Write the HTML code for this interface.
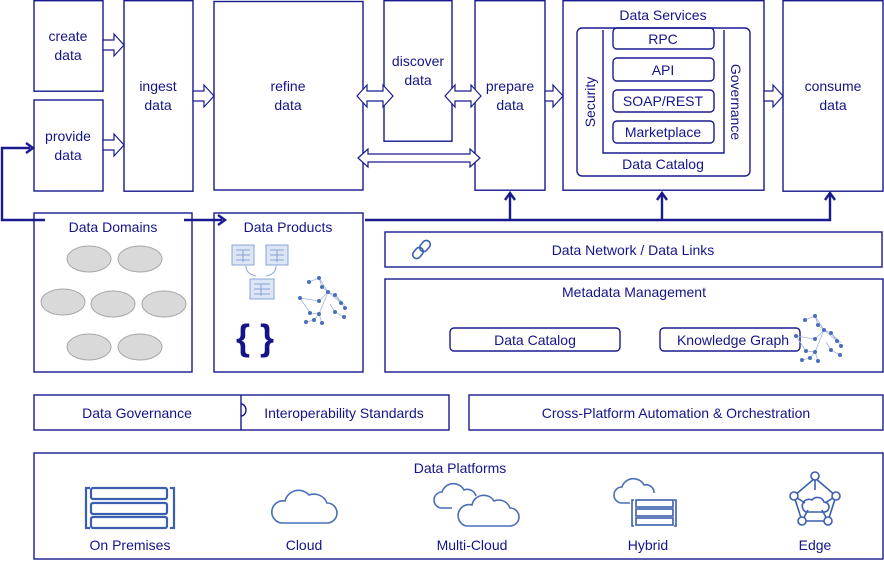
<!DOCTYPE html>
<html><head><meta charset="utf-8"><style>
body{margin:0;width:884px;height:564px;background:#fff;overflow:hidden}
svg{display:block}
text{font-family:"Liberation Sans",sans-serif;fill:#14148a;font-size:14px;text-anchor:middle}
.b{fill:none;stroke:#1a1a8f;stroke-width:1.4}
.a{fill:#fff;stroke:#1a1a8f;stroke-width:1.2}
.l{fill:none;stroke:#1a1a8f;stroke-width:2.4}
.ic{fill:none;stroke:#4a6fb8;stroke-width:1.6}
.dot{fill:#4a6fb8}
.nl{stroke:#9fb3dd;stroke-width:0.8;fill:none}
.e{fill:#d9d9d9;stroke:#a6a6a6;stroke-width:1}
</style></head><body>
<svg width="884" height="564" viewBox="0 0 884 564">
<rect class="b" x="34" y="0.7" width="69" height="90.5"/>
<text x="68" y="41">create</text><text x="68" y="60">data</text>
<rect class="b" x="34" y="100" width="69" height="91"/>
<text x="68" y="141">provide</text><text x="68" y="160">data</text>
<rect class="b" x="124" y="0.7" width="69" height="190.5"/>
<text x="158" y="91">ingest</text><text x="158" y="110">data</text>
<rect class="b" x="214" y="1.5" width="149" height="188.5"/>
<text x="288" y="91">refine</text><text x="288" y="110">data</text>
<rect class="b" x="384" y="0.7" width="68" height="140.5"/>
<text x="418" y="66">discover</text><text x="418" y="85">data</text>
<rect class="b" x="475" y="0.7" width="70" height="189.5"/>
<text x="510" y="91">prepare</text><text x="510" y="110">data</text>
<rect class="b" x="563" y="0.7" width="201" height="189.5"/>
<text x="663" y="20">Data Services</text>
<rect class="b" x="577" y="28" width="173" height="148" rx="5"/>
<path class="b" d="M603,30 V153 H724 V30" />
<rect class="b" x="613" y="28" width="101" height="21" rx="4"/><text x="663" y="44">RPC</text>
<rect class="b" x="613" y="58" width="101" height="23" rx="4"/><text x="663" y="75">API</text>
<rect class="b" x="613" y="90" width="101" height="22" rx="4"/><text x="663" y="106">SOAP/REST</text>
<rect class="b" x="613" y="121" width="101" height="22" rx="4"/><text x="663" y="137">Marketplace</text>
<text x="663" y="169">Data Catalog</text>
<text transform="translate(595,102) rotate(-90)">Security</text>
<text transform="translate(731,102) rotate(90)">Governance</text>
<rect class="b" x="783" y="0.7" width="100" height="190.5"/>
<text x="833" y="91">consume</text><text x="833" y="110">data</text>
<polygon class="a" points="103,40 114,40 114,34 124,45 114,56 114,50 103,50"/>
<polygon class="a" points="103,140 114,140 114,134 124,145 114,156 114,150 103,150"/>
<polygon class="a" points="193,91 204,91 204,85 214,96 204,107 204,101 193,101"/>
<polygon class="a" points="545,91 553,91 553,85 563,96 553,107 553,101 545,101"/>
<polygon class="a" points="764,91 773,91 773,85 783,96 773,107 773,101 764,101"/>
<polygon class="a" points="357,96 367,85 367,91 383,91 383,85 393,96 383,107 383,101 367,101 367,107"/>
<polygon class="a" points="445,96 455,85 455,91 471,91 471,85 481,96 471,107 471,101 455,101 455,107"/>
<polygon class="a" points="358,158 368,149 368,154 470,154 470,149 480,158 470,167 470,162 368,162 368,167"/>
<path class="l" d="M45,220 H2 V148 H30"/>
<path class="l" d="M26,143 L33,148 L26,153"/>
<path class="l" d="M184,220 H222"/>
<path class="l" d="M218,215 L225,220 L218,225"/>
<path class="l" d="M365,220 H830 V195 M510,220 V195 M662,220 V195"/>
<path class="l" d="M505,200 L510,193 L515,200 M657,200 L662,193 L667,200 M825,200 L830,193 L835,200"/>
<rect class="b" x="34" y="213" width="158" height="159"/>
<rect x="45" y="214" width="139" height="14" fill="#fff"/>
<text x="113" y="232">Data Domains</text>
<ellipse class="e" cx="89" cy="259" rx="22" ry="13"/><ellipse class="e" cx="140" cy="259" rx="22" ry="13"/>
<ellipse class="e" cx="63" cy="302" rx="22" ry="13"/><ellipse class="e" cx="113" cy="304" rx="22" ry="13"/><ellipse class="e" cx="164" cy="304" rx="22" ry="13"/>
<ellipse class="e" cx="89" cy="347" rx="22" ry="13"/><ellipse class="e" cx="140" cy="347" rx="22" ry="13"/>
<rect class="b" x="214" y="213" width="149" height="159"/>
<text x="288" y="232">Data Products</text>
<g fill="#dce6f5" stroke="#8aa4d6" stroke-width="1">
<rect x="232" y="245" width="22" height="20"/><rect x="266" y="245" width="22" height="20"/><rect x="250" y="279" width="24" height="20"/>
</g>
<g stroke="#8aa4d6" stroke-width="1" fill="none">
<path d="M236,250 h14 M236,255 h14 M236,260 h14 M243,250 v12 M270,250 h14 M270,255 h14 M270,260 h14 M277,250 v12 M254,284 h16 M254,289 h16 M254,294 h16 M261,284 v12 M246,266 q0,8 10,10 M276,266 q0,8 -10,10"/>
</g>
<text x="255" y="350" style="font-size:36px;font-weight:bold;fill:#14148a">{ }</text>
<g id="net">
<path class="nl" d="M309,282 L319,278 L328,292 L319,301 L300,298 M319,278 L322,287 L328,292 L341,303 L335,295 L328,292 M300,298 L310,313 L319,314 L328,292 M319,314 L314,320 L306,322 M319,314 L322,323 M341,303 L345,308 M335,295 L345,305 M330,304 L335,312 L344,317"/>
<g class="dot"><circle cx="309" cy="282" r="2"/><circle cx="319" cy="278" r="2"/><circle cx="322" cy="287" r="2"/><circle cx="328" cy="292" r="2"/><circle cx="319" cy="301" r="2"/><circle cx="300" cy="298" r="2"/><circle cx="310" cy="313" r="2"/><circle cx="319" cy="314" r="2"/><circle cx="306" cy="322" r="2"/><circle cx="314" cy="320" r="2"/><circle cx="322" cy="323" r="2"/><circle cx="335" cy="295" r="2"/><circle cx="341" cy="303" r="2"/><circle cx="345" cy="308" r="2"/><circle cx="335" cy="312" r="2"/><circle cx="344" cy="317" r="2"/></g>
</g>
<rect class="b" x="385" y="232" width="497" height="35"/>
<text x="633" y="255">Data Network / Data Links</text>
<g fill="none" stroke="#3a5fae" stroke-width="1.6"><rect x="414" y="247" width="8" height="12" rx="4" transform="rotate(40 418 253)"/><rect x="421" y="240" width="8" height="12" rx="4" transform="rotate(40 425 246)"/></g>
<rect class="b" x="385" y="279" width="498" height="93"/>
<text x="634" y="297">Metadata Management</text>
<rect class="b" x="450" y="328" width="170" height="23" rx="4"/><text x="535" y="345">Data Catalog</text>
<rect class="b" x="660" y="328" width="140" height="23" rx="4"/><text x="733" y="345">Knowledge Graph</text>
<use href="#net" transform="translate(496,38)"/>
<rect class="b" x="34" y="395" width="415" height="35"/>
<line class="b" x1="241" y1="395" x2="241" y2="430"/>
<path class="b" d="M241,404 a5,6 0 0 1 0,12" fill="#fff"/>
<text x="137" y="418">Data Governance</text>
<text x="344" y="418">Interoperability Standards</text>
<rect class="b" x="469" y="395" width="414" height="35"/>
<text x="676" y="418">Cross-Platform Automation &amp; Orchestration</text>
<rect class="b" x="34" y="453" width="849" height="106"/>
<text x="460" y="473">Data Platforms</text>
<text x="130" y="550">On Premises</text><text x="304" y="550">Cloud</text><text x="472" y="550">Multi-Cloud</text><text x="648" y="550">Hybrid</text><text x="815" y="550">Edge</text>
<g fill="none" stroke="#3a5fae" stroke-width="2.2">
<path d="M90,488 h-4 v40 h4 M170,488 h4 v40 h-4"/>
<rect x="91" y="488" width="76" height="11" rx="2"/><rect x="91" y="503" width="76" height="11" rx="2"/><rect x="91" y="517" width="76" height="11" rx="2"/>
</g>
<path class="ic" d="M281,523 h46 a10,10 0 0 0 0,-20 a14,14 0 0 0 -18,-8 a14,14 0 0 0 -24,6 a11,11 0 0 0 -4,22z"/>
<path class="ic" d="M452,508 h-10 a8,8 0 0 1 0,-16 a12,12 0 0 1 22,-2 a9,9 0 0 1 12,6"/>
<path class="ic" d="M466,526 h44 a9,9 0 0 0 0,-18 a12,12 0 0 0 -16,-7 a12,12 0 0 0 -22,4 a10,10 0 0 0 -6,21z"/>
<path class="ic" d="M630,503 h-8 a8,8 0 0 1 0,-16 a12,12 0 0 1 22,-2 a8,8 0 0 1 10,8"/>
<g fill="none" stroke="#3a5fae" stroke-width="1.6"><path d="M634,500 h-2 v26 h2 M674,500 h2 v26 h-2"/><rect x="636" y="500" width="37" height="7"/><rect x="636" y="509" width="37" height="7"/><rect x="636" y="518" width="37" height="7"/></g>
<g fill="none" stroke="#3a5fae" stroke-width="1.6">
<path d="M815,478 L836,496 L828,521 L802,521 L794,496 Z"/>
<path d="M815,478 V490 M794,496 L805,503 M836,496 L825,503 M802,521 L808,510 M828,521 L822,510"/>
<path d="M806,512 h18 a5,5 0 0 0 0,-10 a7,7 0 0 0 -12,-2 a5,5 0 0 0 -6,12z"/>
<circle cx="815" cy="476" r="4" fill="#fff"/><circle cx="794" cy="496" r="4" fill="#fff"/><circle cx="836" cy="496" r="4" fill="#fff"/><circle cx="802" cy="521" r="4" fill="#fff"/><circle cx="828" cy="521" r="4" fill="#fff"/>
</g>
</svg>
</body></html>
